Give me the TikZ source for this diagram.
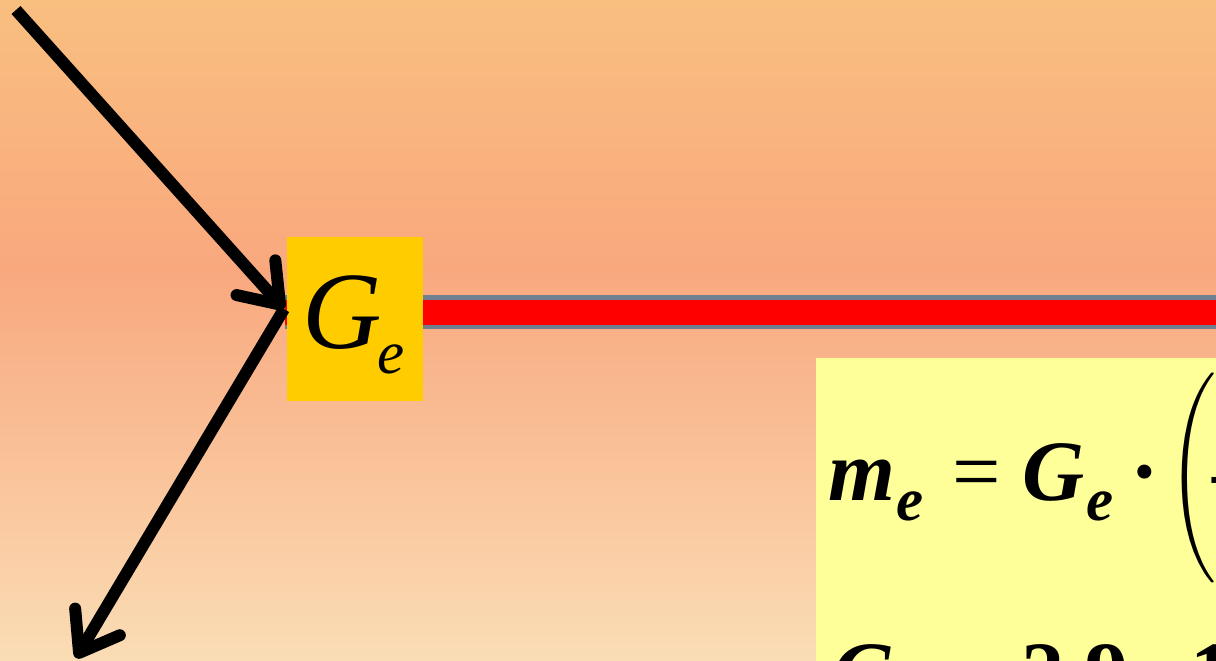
\documentclass[tikz,border=0pt]{standalone}
\usepackage{fontspec}
\setmainfont{Liberation Serif}
\usetikzlibrary{arrows.meta}
\definecolor{bgtop}{RGB}{249,191,127}
\definecolor{bgmid}{RGB}{249,168,126}
\definecolor{bgbot}{RGB}{250,221,181}
\definecolor{gebox}{RGB}{255,204,0}
\definecolor{formbox}{RGB}{255,255,153}
\definecolor{barrim}{RGB}{112,128,144}
\definecolor{barred}{RGB}{255,0,0}
\tikzset{
  arr/.style={line width=12pt, black,
    -{Straight Barb[length=36pt,width=52pt,line cap=round,line join=round]}},
  big/.style={inner sep=0pt, anchor=base west, font=\fontsize{86}{86}\selectfont\bfseries\itshape},
  bigr/.style={inner sep=0pt, anchor=base west, font=\fontsize{86}{86}\selectfont\bfseries},
  sub/.style={inner sep=0pt, anchor=base west, font=\fontsize{61}{61}\selectfont\bfseries\itshape},
}
\begin{document}
\begin{tikzpicture}[x=1pt,y=-1pt]
\path[use as bounding box] (0,0) rectangle (1216,661);
\clip (0,0) rectangle (1216,661);
% background
\shade[top color=bgtop, bottom color=bgmid] (0,0) rectangle (1216,271);
\shade[top color=bgmid, bottom color=bgbot] (0,270) rectangle (1216,661);
% bar
\coordinate (barL) at (285,312);
\coordinate (barR) at (1220,312);
\draw[barrim, line width=34pt] (barL) -- (barR);
\draw[barred, line width=25pt] (barL) -- (barR);
% G_e box
\node[fill=gebox, minimum width=136pt, minimum height=164pt, inner sep=0pt] (ge) at (355,319) {};
\node[inner sep=0pt, anchor=base west, font=\fontsize{110}{110}\selectfont\itshape] (geG) at (302,348) {G};
\node[inner sep=0pt, anchor=base west, font=\fontsize{61}{61}\selectfont\itshape] (gee) at (377,373) {e};
% arrows
\coordinate (a0) at (16,10);
\coordinate (j) at (284,309);
\coordinate (a2) at (76,658);
\draw[arr] (a0) -- (j);
\draw[arr] (j) -- (a2);
% formula box
\node[fill=formbox, minimum width=420pt, minimum height=320pt, inner sep=0pt, anchor=north west] (fb) at (816,358) {};
\node[big] (m) at (828,500) {m};
\node[sub] (me) at (896,520) {e};
\node[bigr, font=\fontsize{86}{86}\selectfont] (eq) at (952,500) {=};
\node[big] (G1) at (1022,500) {G};
\node[sub] (G1e) at (1086,520) {e};
\node[bigr] (dot) at (1130,500) {·};
\node[inner sep=0pt, anchor=north west] (par) at (1168,373) {\resizebox*{48pt}{210pt}{$\biggl($}};
\node[bigr] (minus) at (1212,500) {–};
% second line
\node[big] (G2) at (832,701) {G};
\node[sub] (G2e) at (898,721) {e};
\node[bigr, font=\fontsize{86}{86}\selectfont] (eq2) at (952,712) {=};
\node[bigr] (num) at (1021,701) {2,9};
\node[bigr] (dot2) at (1150,701) {·};
\node[bigr] (one) at (1190,701) {1};
\end{tikzpicture}
\end{document}
